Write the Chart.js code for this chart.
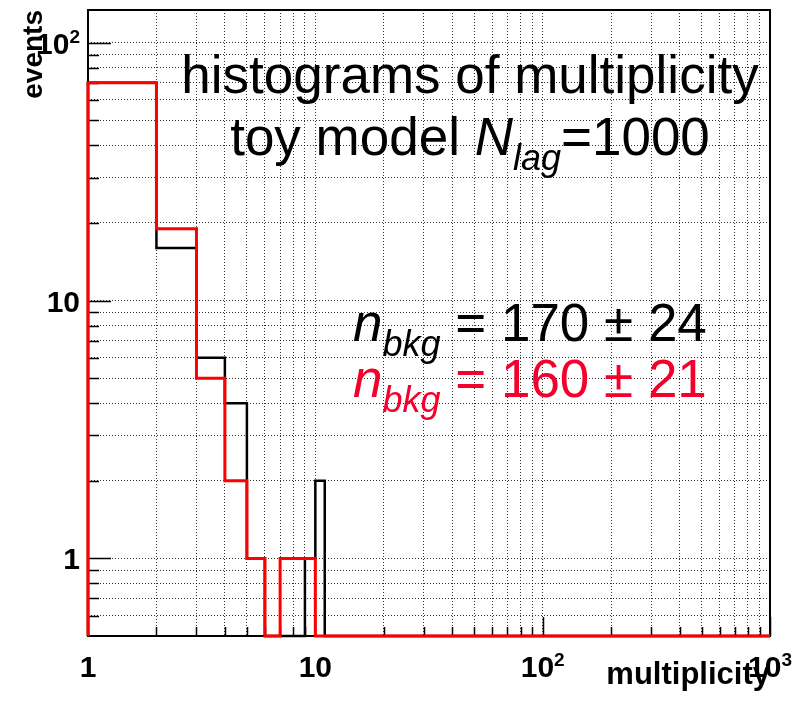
<!DOCTYPE html>
<html>
<head>
<meta charset="utf-8">
<script src="https://cdn.jsdelivr.net/npm/chart.js@4.4.1/dist/chart.umd.min.js"></script>
<style>
  html, body { margin: 0; padding: 0; background: #fff; }
</style>
</head>
<body>
<canvas id="hist" width="798" height="702"></canvas>
<script>
// unit-width bins starting at these lower edges; everything above is empty
const binEdges = [1, 2, 3, 4, 5, 6, 7, 8, 9, 10, 11];
const countsBlack = [70, 16, 6, 4, 1, 0, 0, 0, 1, 2, 0];
const countsRed = [70, 19, 5, 2, 1, 0, 1, 1, 1, 0, 0];

const xRange = [1, 1000];
const yRange = [0.5, 134];

// grid / tick positions and the labelled ones (label = base + exponent)
const xGrid = [1, 2, 3, 4, 5, 6, 7, 8, 9, 10, 20, 30, 40, 50, 60, 70, 80, 90,
  100, 200, 300, 400, 500, 600, 700, 800, 900, 1000];
const yGrid = [0.6, 0.7, 0.8, 0.9, 1, 2, 3, 4, 5, 6, 7, 8, 9, 10, 20, 30, 40, 50,
  60, 70, 80, 90, 100];
const xTickValues = [1, 10, 100, 1000];
const xTickBase = ['1', '10', '10', '10'];
const xTickExp = ['', '', '2', '3'];
const yTickValues = [1, 10, 100];
const yTickBase = ['1', '10', '10'];
const yTickExp = ['', '', '2'];

const SANS = '"Liberation Sans", Arial, sans-serif';

// empty bins sit on the bottom of the log axis, like ROOT draws them
function stepPoints(counts) {
  const pts = [{x: binEdges[0], y: yRange[0]}];
  counts.forEach(function (c, i) {
    pts.push({x: binEdges[i], y: c > 0 ? c : yRange[0]});
  });
  pts.push({x: xRange[1], y: yRange[0]});
  return pts;
}

function fixSize(prop, size) {
  return function (scale) {
    scale[prop] = size;
    scale.paddingTop = 0; scale.paddingBottom = 0;
    scale.paddingLeft = 0; scale.paddingRight = 0;
  };
}

const LBL = 'bold 30px ' + SANS, SUP = 'bold 19px ' + SANS;

// "10" with a raised exponent; anchor: 'center' or 'right'
function powerLabel(ctx, base, exp, x, baseline, anchor) {
  ctx.font = LBL;
  const wb = ctx.measureText(base).width;
  ctx.font = SUP;
  const we = exp ? ctx.measureText(exp).width : 0;
  const left = anchor === 'center' ? x - (wb + we) / 2 : x - wb - we;
  ctx.font = LBL;
  ctx.fillText(base, left, baseline);
  if (exp) {
    ctx.font = SUP;
    ctx.fillText(exp, left + wb, baseline - 11);
  }
}

// frame, inward ticks and tick labels
const frame = {
  id: 'frame',
  beforeDatasetsDraw(chart) {
    const {ctx, chartArea: a, scales: {x, y}} = chart;
    ctx.save();
    ctx.strokeStyle = '#000';
    ctx.lineWidth = 1.5;
    ctx.beginPath();
    yGrid.forEach(function (v) {
      const py = Math.round(y.getPixelForValue(v)) + 0.5;
      const len = yTickValues.indexOf(v) >= 0 ? 23 : 11;
      ctx.moveTo(a.left, py);
      ctx.lineTo(a.left + len, py);
    });
    xGrid.forEach(function (v) {
      const px = Math.round(x.getPixelForValue(v)) + 0.5;
      const len = xTickValues.indexOf(v) >= 0 ? 19 : 9;
      ctx.moveTo(px, a.bottom);
      ctx.lineTo(px, a.bottom - len);
    });
    ctx.stroke();
    ctx.lineWidth = 2;
    ctx.strokeRect(a.left, a.top, a.right - a.left, a.bottom - a.top);

    ctx.fillStyle = '#000';
    ctx.textAlign = 'left';
    ctx.textBaseline = 'alphabetic';
    xTickValues.forEach(function (v, i) {
      powerLabel(ctx, xTickBase[i], xTickExp[i], x.getPixelForValue(v), a.bottom + 41, 'center');
    });
    yTickValues.forEach(function (v, i) {
      powerLabel(ctx, yTickBase[i], yTickExp[i], a.left - 8, y.getPixelForValue(v) + 11, 'right');
    });
    ctx.restore();
  }
};

function drawRuns(ctx, runs, x, baseline, center) {
  let w = 0;
  runs.forEach(function (r) { ctx.font = r[1]; w += ctx.measureText(r[0]).width; });
  let cx = center ? x - w / 2 : x;
  runs.forEach(function (r) {
    ctx.font = r[1];
    ctx.fillText(r[0], cx, baseline + (r[2] || 0));
    cx += ctx.measureText(r[0]).width;
  });
}

const notes = {
  id: 'notes',
  afterDatasetsDraw(chart) {
    const ctx = chart.ctx;
    const big = '53px ' + SANS, bigIt = 'italic 53px ' + SANS, sub = 'italic 36px ' + SANS;
    ctx.save();
    ctx.textAlign = 'left';
    ctx.textBaseline = 'alphabetic';
    ctx.fillStyle = '#000';
    drawRuns(ctx, [['histograms of multiplicity', big]], 470, 93, true);
    drawRuns(ctx, [['toy model ', big], ['N', bigIt], ['lag', sub, 15], ['=1000', big]], 470, 155, true);
    drawRuns(ctx, [['n', bigIt], ['bkg', sub, 15], [' = 170 \u00b1 24', big]], 353, 341, false);
    ctx.fillStyle = 'rgb(245,0,45)';
    drawRuns(ctx, [['n', bigIt], ['bkg', sub, 15], [' = 160 \u00b1 21', big]], 353, 397, false);
    ctx.restore();
  }
};

const gridStyle = {color: 'rgba(0,0,0,0.8)', lineWidth: 1, drawTicks: false};

new Chart(document.getElementById('hist'), {
  type: 'line',
  data: {
    datasets: [
      {
        label: 'red',
        data: stepPoints(countsRed),
        borderColor: '#ff0000',
        borderWidth: 3,
        stepped: 'before',
        pointRadius: 0,
        fill: false,
        clip: 6
      },
      {
        label: 'black',
        data: stepPoints(countsBlack),
        borderColor: '#000000',
        borderWidth: 2.5,
        stepped: 'before',
        pointRadius: 0,
        fill: false,
        clip: 6
      }
    ]
  },
  options: {
    responsive: false,
    animation: false,
    layout: {padding: {top: 10, right: 28, left: 0, bottom: 0}},
    plugins: {legend: {display: false}, tooltip: {enabled: false}},
    scales: {
      x: {
        type: 'logarithmic',
        min: xRange[0],
        max: xRange[1],
        bounds: 'data',
        grid: gridStyle,
        border: {display: false, dash: [1, 2]},
        afterBuildTicks: function (s) { s.ticks = xGrid.map(function (v) { return {value: v}; }); },
        afterFit: fixSize('height', 66),
        ticks: {display: false, autoSkip: false},
        title: {
          display: true, text: 'multiplicity', align: 'end', color: '#000',
          font: {family: SANS, size: 31, weight: 'bold'},
          padding: {top: 0, bottom: 8}
        }
      },
      y: {
        type: 'logarithmic',
        min: yRange[0],
        max: yRange[1],
        bounds: 'data',
        grid: gridStyle,
        border: {display: false, dash: [1, 2]},
        afterBuildTicks: function (s) { s.ticks = yGrid.map(function (v) { return {value: v}; }); },
        afterFit: fixSize('width', 88),
        ticks: {display: false, autoSkip: false},
        title: {
          display: true, text: 'events', align: 'end', color: '#000',
          font: {family: SANS, size: 28, weight: 'bold'},
          padding: {top: 17, bottom: 0}
        }
      }
    }
  },
  plugins: [frame, notes]
});
</script>
</body>
</html>
